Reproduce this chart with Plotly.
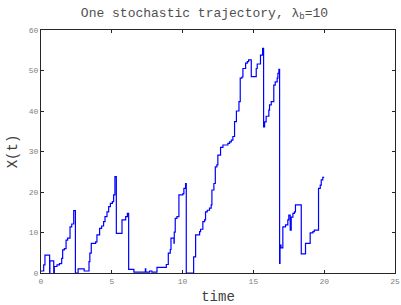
import plotly.graph_objects as go

# jump times and the value held from that time on (step trajectory)
times = [0, 0.19, 0.28, 0.61, 0.63, 0.90, 0.94, 1.13, 1.30, 1.46,
         1.53, 1.65, 1.77, 1.88, 2.05, 2.17, 2.31, 2.43, 2.62, 3.05,
         3.39, 3.45, 3.55, 3.86, 3.95, 4.14, 4.28, 4.42, 4.52, 4.66,
         4.78, 4.90, 5.04, 5.13, 5.22, 5.32, 5.72, 5.98, 6.10, 6.19,
         6.56, 7.37, 7.40, 7.67, 7.83, 8.19, 8.85, 8.99, 9.13, 9.18,
         9.39, 9.41, 9.48, 9.60, 9.74, 10.02, 10.09, 10.21, 10.26, 10.78,
         10.92, 11.20, 11.27, 11.43, 11.55, 11.62, 11.74, 11.90, 12.02, 12.07,
         12.21, 12.31, 12.42, 12.49, 12.68, 12.85, 13.20, 13.32, 13.44, 13.55,
         13.67, 13.80, 13.98, 14.07, 14.19, 14.26, 14.45, 14.57, 14.66, 14.85,
         15.20, 15.27, 15.50, 15.65, 15.72, 15.79, 15.90, 16.09, 16.14, 16.26,
         16.44, 16.54, 16.68, 16.73, 16.80, 16.85, 16.88, 16.95, 17.08, 17.27,
         17.43, 17.50, 17.60, 17.67, 17.79, 17.90, 17.97, 18.38, 18.68, 19.01,
         19.20, 19.30, 19.60, 19.72, 19.79, 19.90, 20.0]

values = [0.5, 2.0, 4.4, 0, 3.0, 0, 1.6, 2.0, 2.3, 3.6,
          5.7, 6.0, 8.1, 8.6, 11.4, 12.1, 15.4, 0, 1.0, 0.5,
          2.8, 4.9, 7.3, 7.7, 9.4, 11.0, 11.6, 12.7, 13.9, 15.1,
          16.4, 17.2, 17.6, 19.3, 23.8, 9.8, 13.1, 13.9, 14.7, 0.9,
          0.2, 1.0, 0.2, 0.5, 0.2, 1.4, 2.1, 4.9, 5.8, 8.6,
          7.4, 10.1, 13.5, 13.9, 19.3, 19.6, 20.9, 22.1, 0, 4.0,
          9.4, 10.2, 10.8, 12.7, 13.1, 15.1, 15.5, 16.0, 16.8, 20.5,
          22.1, 26.2, 26.7, 29.1, 31.0, 31.6, 32.0, 32.4, 32.8, 33.7,
          37.4, 40.0, 42.3, 48.1, 48.4, 50.5, 51.8, 52.2, 52.6, 48.5,
          50.5, 51.6, 53.8, 55.5, 36.1, 37.3, 38.7, 40.2, 41.5, 42.3,
          46.4, 47.2, 48.1, 49.3, 50.3, 2.4, 6.9, 6.2, 11.4, 11.9,
          13.1, 14.3, 10.6, 13.8, 14.7, 15.1, 16.8, 4.7, 7.3, 9.9,
          10.2, 10.6, 20.9, 21.7, 23.0, 23.6, 23.6]

x_ticks = [0, 5, 10, 15, 20, 25]
y_ticks = [0, 10, 20, 30, 40, 50, 60]

mono = "Liberation Mono, DejaVu Sans Mono, monospace"

fig = go.Figure()
fig.add_trace(go.Scatter(x=times, y=values, mode="lines", line_shape="hv",
                         line=dict(color="#0000FF", width=1.2), showlegend=False))

axis_common = dict(showgrid=False, zeroline=False, showline=True, linecolor="#262626",
                   linewidth=1, mirror="ticks", ticks="inside", ticklen=3,
                   tickcolor="#262626", automargin=False,
                   tickfont=dict(family=mono, size=8, color="#808080"))

fig.update_xaxes(range=[0, 25], tickvals=x_ticks,
                 title=dict(text="time", font=dict(family=mono, size=14, color="#404040"), standoff=6),
                 **axis_common)
fig.update_yaxes(range=[0, 60], tickvals=y_ticks,
                 title=dict(text="X(t)", font=dict(family=mono, size=14, color="#404040"), standoff=7),
                 **axis_common)

fig.update_layout(
    width=401, height=305,
    margin=dict(l=41, r=6, t=30, b=32, autoexpand=False),
    paper_bgcolor="white", plot_bgcolor="white",
    title=dict(text="One stochastic trajectory, λ<sub>b</sub>=10",
               font=dict(family=mono, size=13, color="#505050"),
               x=0.51, xanchor="center", y=0.975, yanchor="top", automargin=False),
)

fig.write_html("out.html", config={"displayModeBar": False},
               post_script="document.body.style.margin='0';document.body.style.padding='0';")
